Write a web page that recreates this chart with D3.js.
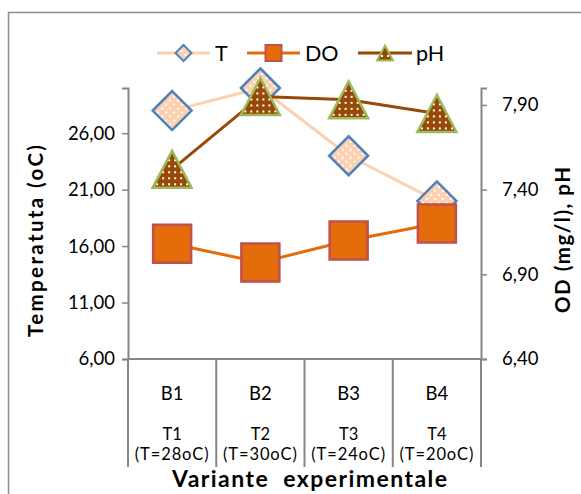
<!DOCTYPE html>
<html>
<head>
<meta charset="utf-8">
<script src="https://cdn.jsdelivr.net/npm/d3@7"></script>
<style>
  html, body { margin: 0; padding: 0; background: #fff; }
  svg { display: block; font-family: Lato, "Open Sans", sans-serif; }
</style>
</head>
<body>
<svg id="chart" width="581" height="494"></svg>
<script>
// Experimental variants
const categories = ["B1", "B2", "B3", "B4"];
const subLabels = ["T1", "T2", "T3", "T4"];
const tempLabels = ["(T=28oC)", "(T=30oC)", "(T=24oC)", "(T=20oC)"];

// Series values
const tempValues = [28, 30, 24, 20];        // T, left axis (oC)
const doValues = [7.08, 6.97, 7.10, 7.20];  // DO, right axis (mg/l)
const phValues = [7.52, 7.95, 7.93, 7.85];  // pH, right axis

// Axis ticks
const leftTicks = [6, 11, 16, 21, 26];
const rightTicks = [6.4, 6.9, 7.4, 7.9];
const leftDomain = [6, 30];
const rightDomain = [6.4, 8.0];

const svg = d3.select("#chart");
const gridColor = "#868686";
const fmt = v => d3.format(".2f")(v).replace(".", ",");

// outer frame (only top and left edges visible)
svg.append("path")
  .attr("d", "M8.5,494 L8.5,12.5 L581,12.5")
  .attr("fill", "none").attr("stroke", "#8c8c8c").attr("stroke-width", 1.5);

// patterns with white dots
const defs = svg.append("defs");
function dotPattern(id, fill, size, dots) {
  const p = defs.append("pattern").attr("id", id)
    .attr("patternUnits", "userSpaceOnUse").attr("width", size).attr("height", size);
  p.append("rect").attr("width", size).attr("height", size).attr("fill", fill);
  dots.forEach(([dx, dy]) => p.append("rect").attr("x", dx).attr("y", dy)
    .attr("width", 2).attr("height", 2).attr("fill", "#fff"));
}
dotPattern("dotsT", "#fbd1b0", 8, [[1, 1], [5, 5]]);
dotPattern("dotsPH", "#984807", 6, [[2, 2]]);

const plot = { left: 128, right: 481, top: 88, bottom: 359 };

const x = d3.scaleBand().domain(categories).range([plot.left, plot.right]).padding(0);
const yL = d3.scaleLinear().domain(leftDomain).range([plot.bottom, plot.top]);
const yR = d3.scaleLinear().domain(rightDomain).range([plot.bottom, plot.top]);
const cx = c => x(c) + x.bandwidth() / 2;

// left axis
const gL = svg.append("g").attr("transform", `translate(${plot.left},0)`)
  .call(d3.axisLeft(yL).tickValues(leftTicks).tickFormat(fmt).tickSizeOuter(0).tickSize(6).tickPadding(7));
// right axis
const gR = svg.append("g").attr("transform", `translate(${plot.right},0)`)
  .call(d3.axisRight(yR).tickValues(rightTicks).tickFormat(fmt).tickSizeOuter(0).tickSize(6).tickPadding(15));
[gL, gR].forEach(g => {
  g.select(".domain").attr("stroke", gridColor).attr("stroke-width", 2);
  g.selectAll(".tick line").attr("stroke", gridColor).attr("stroke-width", 1.5);
  g.selectAll(".tick text").attr("font-size", 18.5).attr("fill", "#000")
    .attr("font-family", "Lato, sans-serif");
});

// category axis: baseline and dividers
svg.append("line")
  .attr("x1", plot.left).attr("x2", plot.right)
  .attr("y1", plot.bottom).attr("y2", plot.bottom)
  .attr("stroke", gridColor).attr("stroke-width", 2);
const bounds = categories.map(c => x(c)).concat([x(categories[categories.length - 1]) + x.bandwidth()]);
svg.selectAll(".divider").data(bounds).join("line")
  .attr("class", "divider")
  .attr("x1", d => d).attr("x2", d => d)
  .attr("y1", plot.bottom).attr("y2", 467)
  .attr("stroke", gridColor).attr("stroke-width", 2);

// category labels: variant code, then a two-line treatment label
const catText = svg.append("g").attr("text-anchor", "middle").attr("fill", "#000");
catText.selectAll(".c1").data(categories).join("text")
  .attr("font-size", 18.5)
  .attr("x", d => cx(d)).attr("y", 400).text(d => d);
catText.selectAll(".c2").data(categories).join("text")
  .attr("font-size", 16.5)
  .attr("x", d => cx(d)).attr("y", 440).text((d, i) => subLabels[i]);
catText.selectAll(".c3").data(categories).join("text")
  .attr("font-size", 16.5).attr("letter-spacing", 0.9)
  .attr("x", d => cx(d)).attr("y", 460).text((d, i) => tempLabels[i]);

// axis titles
svg.append("text")
  .attr("transform", "translate(43,241) rotate(-90)")
  .attr("text-anchor", "middle").attr("font-weight", "bold").attr("font-size", 20.5)
  .attr("textLength", 192).attr("lengthAdjust", "spacing")
  .text("Temperatuta (oC)");
svg.append("text")
  .attr("transform", "translate(570,240) rotate(-90)")
  .attr("text-anchor", "middle").attr("font-weight", "bold").attr("font-size", 20.5)
  .attr("textLength", 146).attr("lengthAdjust", "spacing")
  .text("OD (mg/l), pH");
svg.append("text")
  .attr("x", 309.5).attr("y", 487)
  .attr("text-anchor", "middle").attr("font-weight", "bold").attr("font-size", 23)
  .attr("textLength", 275).attr("lengthAdjust", "spacing")
  .attr("xml:space", "preserve")
  .text("Variante  experimentale");

// marker shapes
const diamondPath = s => `M0,${-s} L${s},0 L0,${s} L${-s},0 Z`;
const squarePath = s => `M${-s},${-s} H${s} V${s} H${-s} Z`;
const trianglePath = (w, h) => `M0,${-h / 2} L${w / 2},${h / 2} L${-w / 2},${h / 2} Z`;

const series = [
  { name: "T", values: tempValues, y: yL, line: "#fbd1b0",
    marker: diamondPath(19.5), fill: "url(#dotsT)", stroke: "#4f81bd",
    legend: diamondPath(8) },
  { name: "DO", values: doValues, y: yR, line: "#e46c0a",
    marker: squarePath(19), fill: "#e46c0a", stroke: "#c0504d",
    legend: squarePath(8) },
  { name: "pH", values: phValues, y: yR, line: "#984807",
    marker: trianglePath(39, 37), fill: "url(#dotsPH)", stroke: "#9bbb59",
    legend: trianglePath(16, 15) }
];

series.forEach(s => {
  const g = svg.append("g");
  const pts = categories.map((c, i) => [cx(c), s.y(s.values[i])]);
  g.append("path").datum(pts)
    .attr("d", d3.line())
    .attr("fill", "none").attr("stroke", s.line).attr("stroke-width", 3);
  g.selectAll("path.m").data(pts).join("path")
    .attr("class", "m")
    .attr("transform", d => `translate(${d[0]},${d[1]})`)
    .attr("d", s.marker)
    .attr("fill", s.fill).attr("stroke", s.stroke).attr("stroke-width", 2.5)
    .attr("stroke-linejoin", "miter");
});

// legend
const legendItems = [
  { s: series[0], x0: 157, x1: 210, tx: 215 },
  { s: series[1], x0: 247, x1: 300, tx: 305 },
  { s: series[2], x0: 358, x1: 412, tx: 416 }
];
const ly = 53;
legendItems.forEach(it => {
  const g = svg.append("g");
  g.append("line").attr("x1", it.x0).attr("x2", it.x1).attr("y1", ly).attr("y2", ly)
    .attr("stroke", it.s.line).attr("stroke-width", 3);
  g.append("path").attr("transform", `translate(${(it.x0 + it.x1) / 2},${ly})`)
    .attr("d", it.s.legend)
    .attr("fill", it.s.fill).attr("stroke", it.s.stroke).attr("stroke-width", 2);
  g.append("text").attr("x", it.tx).attr("y", ly + 8).attr("font-size", 21.5).attr("fill", "#000")
    .text(it.s.name);
});
</script>
</body>
</html>
